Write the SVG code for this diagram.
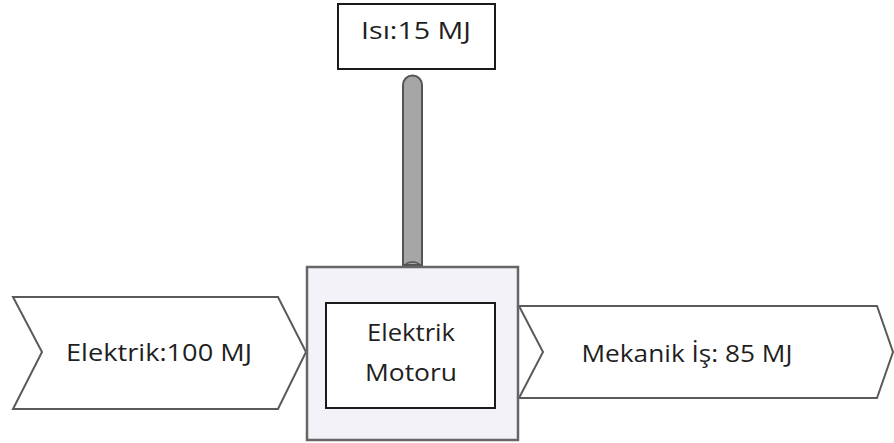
<svg xmlns="http://www.w3.org/2000/svg" width="894" height="443" viewBox="0 0 894 443">
<style>
.t{font-family:"Open Sans","Liberation Sans",sans-serif;font-size:23px;fill:#1f1f1f;text-anchor:middle}
.box{fill:#fff;stroke:#1a1a1a;stroke-width:2}
.arr{fill:#fff;stroke:#5a5a5a;stroke-width:2;stroke-linejoin:miter}
</style>
<rect width="894" height="443" fill="#fff"/>
<g id="connectors">
<path d="M403,265 V85 A9.5,9.5 0 0 1 422,85 V265 Z" fill="#a6a6a6" stroke="#555" stroke-width="2"/>
<path d="M405,266 A7.5,4 0 0 1 420,266" fill="none" stroke="#555" stroke-width="1.5"/>
</g>
<g id="isi">
<rect class="box" x="338" y="4" width="157" height="65"/>
<text class="t" x="416" y="39" textLength="110" lengthAdjust="spacingAndGlyphs">Isı:15 MJ</text>
</g>
<g id="elektrik-giris">
<polygon class="arr" points="13,297 278,297 306,352 278,409 13,409 42,352"/>
<text class="t" x="159" y="361" textLength="186" lengthAdjust="spacingAndGlyphs">Elektrik:100 MJ</text>
</g>
<g id="mekanik-is">
<polygon class="arr" points="519,306 877,306 893,352 877,398 519,398 543,352"/>
<text class="t" x="687" y="362" textLength="211" lengthAdjust="spacingAndGlyphs">Mekanik İş: 85 MJ</text>
</g>
<g id="motor">
<rect x="307" y="267" width="211" height="173" fill="#f2f2f8" stroke="#666" stroke-width="2.5"/>
<rect class="box" x="326" y="303" width="169" height="105"/>
<text class="t" x="411" y="341" textLength="88" lengthAdjust="spacingAndGlyphs">Elektrik</text>
<text class="t" x="411" y="381" textLength="92" lengthAdjust="spacingAndGlyphs">Motoru</text>
</g>
</svg>
